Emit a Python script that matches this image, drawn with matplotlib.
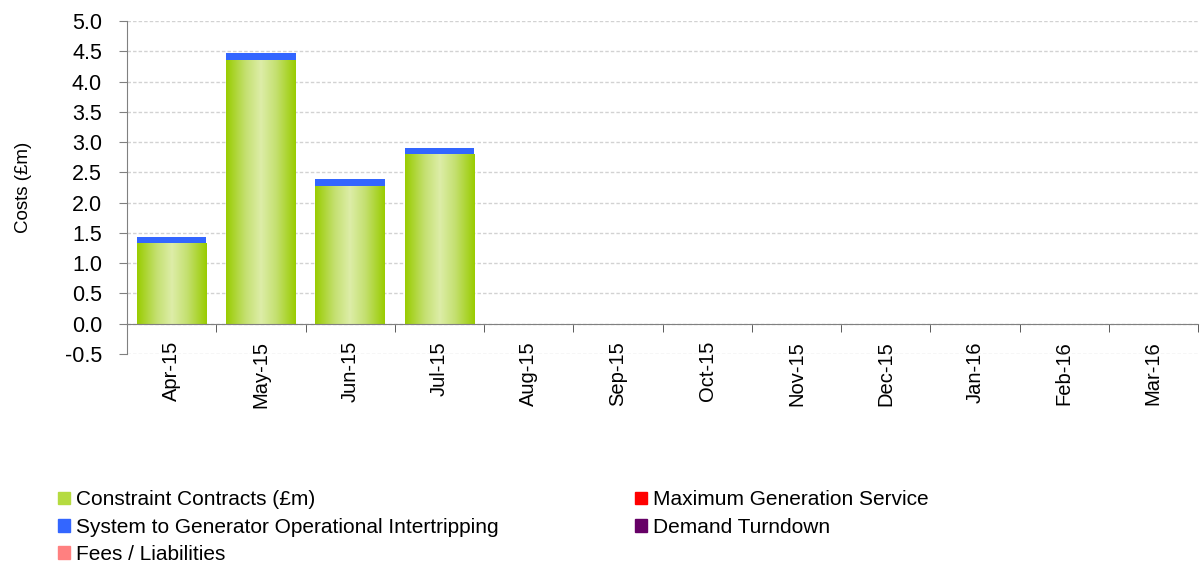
import numpy as np
import matplotlib
matplotlib.use("Agg")
import matplotlib.pyplot as plt
from matplotlib.colors import LinearSegmentedColormap
from matplotlib.patches import Patch
from matplotlib.ticker import MultipleLocator

plt.rcParams["font.family"] = ["Liberation Sans", "DejaVu Sans"]

months = ["Apr-15", "May-15", "Jun-15", "Jul-15", "Aug-15", "Sep-15",
          "Oct-15", "Nov-15", "Dec-15", "Jan-16", "Feb-16", "Mar-16"]
constraint = [1.33, 4.36, 2.28, 2.80, 0, 0, 0, 0, 0, 0, 0, 0]
intertrip = [0.11, 0.11, 0.11, 0.10, 0, 0, 0, 0, 0, 0, 0, 0]
fees = [-0.01, 0, 0, 0, 0, 0, 0, 0, 0, 0, 0, 0]
max_gen = [0] * 12
demand_td = [0] * 12

GREEN = "#99CC00"
BLUE = "#3366FF"
RED = "#FF0000"
PURPLE = "#660066"
PINK = "#FF8080"

fig = plt.figure(figsize=(12.03, 5.64), dpi=100)
ax = fig.add_axes([127 / 1203, 1 - 354 / 564, 1071 / 1203, 333 / 564])

x = np.arange(len(months))
w = 0.78
cc = ax.bar(x, constraint, w, color=GREEN, zorder=2)
ax.bar(x, intertrip, w, bottom=constraint, color=BLUE, zorder=2)
ax.bar(x, fees, w, color=PINK, zorder=2)
ax.bar(x, max_gen, w, color=RED, zorder=2)
ax.bar(x, demand_td, w, color=PURPLE, zorder=2)

# gradient fill for the constraint contracts bars
cmap = LinearSegmentedColormap.from_list(
    "g", [(0, "#99CC00"), (0.28, "#C4E070"), (0.5, "#DDEDA8"),
          (0.72, "#C4E070"), (1, "#99CC00")])
grad = np.linspace(0, 1, 256).reshape(1, -1)
for p in cc:
    if p.get_height() <= 0:
        continue
    im = ax.imshow(grad, cmap=cmap, aspect="auto", zorder=2.5,
                   extent=[p.get_x(), p.get_x() + p.get_width(),
                           p.get_y(), p.get_y() + p.get_height()])
    im.set_clip_path(p)

ax.set_xlim(-0.5, len(months) - 0.5)
ax.set_ylim(-0.5, 5.0)
ax.yaxis.set_major_locator(MultipleLocator(0.5))
ax.set_yticklabels([f"{v:.1f}" for v in ax.get_yticks()])
ax.grid(axis="y", color="#D2D2D2", ls=(0, (2.5, 1.5)), lw=1, zorder=0)

for s in ["top", "right"]:
    ax.spines[s].set_visible(False)
ax.spines["left"].set_color("#808080")
ax.spines["bottom"].set_position(("data", 0))
ax.spines["bottom"].set_color("#808080")
ax.spines["bottom"].set_zorder(3)

ax.set_xticks(x)
ax.set_xticklabels(months, rotation=90)
ax.set_xticks(np.arange(len(months) + 1) - 0.5, minor=True)
ax.tick_params(axis="x", which="major", length=0, pad=12.5, labelsize=14.5)
ax.tick_params(axis="x", which="minor", length=6, color="#404040", direction="out")
ax.tick_params(axis="y", length=6, color="#808080", labelsize=15.5, pad=12)
ax.set_ylabel("Costs (£m)", fontsize=13.5)
ax.yaxis.set_label_coords(-0.089, 0.5)

h1 = [Patch(color="#B5DB40", label="Constraint Contracts (£m)"),
      Patch(color=BLUE, label="System to Generator Operational Intertripping"),
      Patch(color=PINK, label="Fees / Liabilities")]
h2 = [Patch(color=RED, label="Maximum Generation Service"),
      Patch(color=PURPLE, label="Demand Turndown")]
kw = dict(loc="upper left", frameon=False, fontsize=15, handlelength=0.55,
          handleheight=0.55, handletextpad=0.3, labelspacing=0.4, borderaxespad=0)
fig.legend(handles=h1, bbox_to_anchor=(50 / 1203, 1 - 482 / 564), **kw)
fig.legend(handles=h2, bbox_to_anchor=(627 / 1203, 1 - 482 / 564), **kw)

fig.savefig("out.png", dpi=100)
